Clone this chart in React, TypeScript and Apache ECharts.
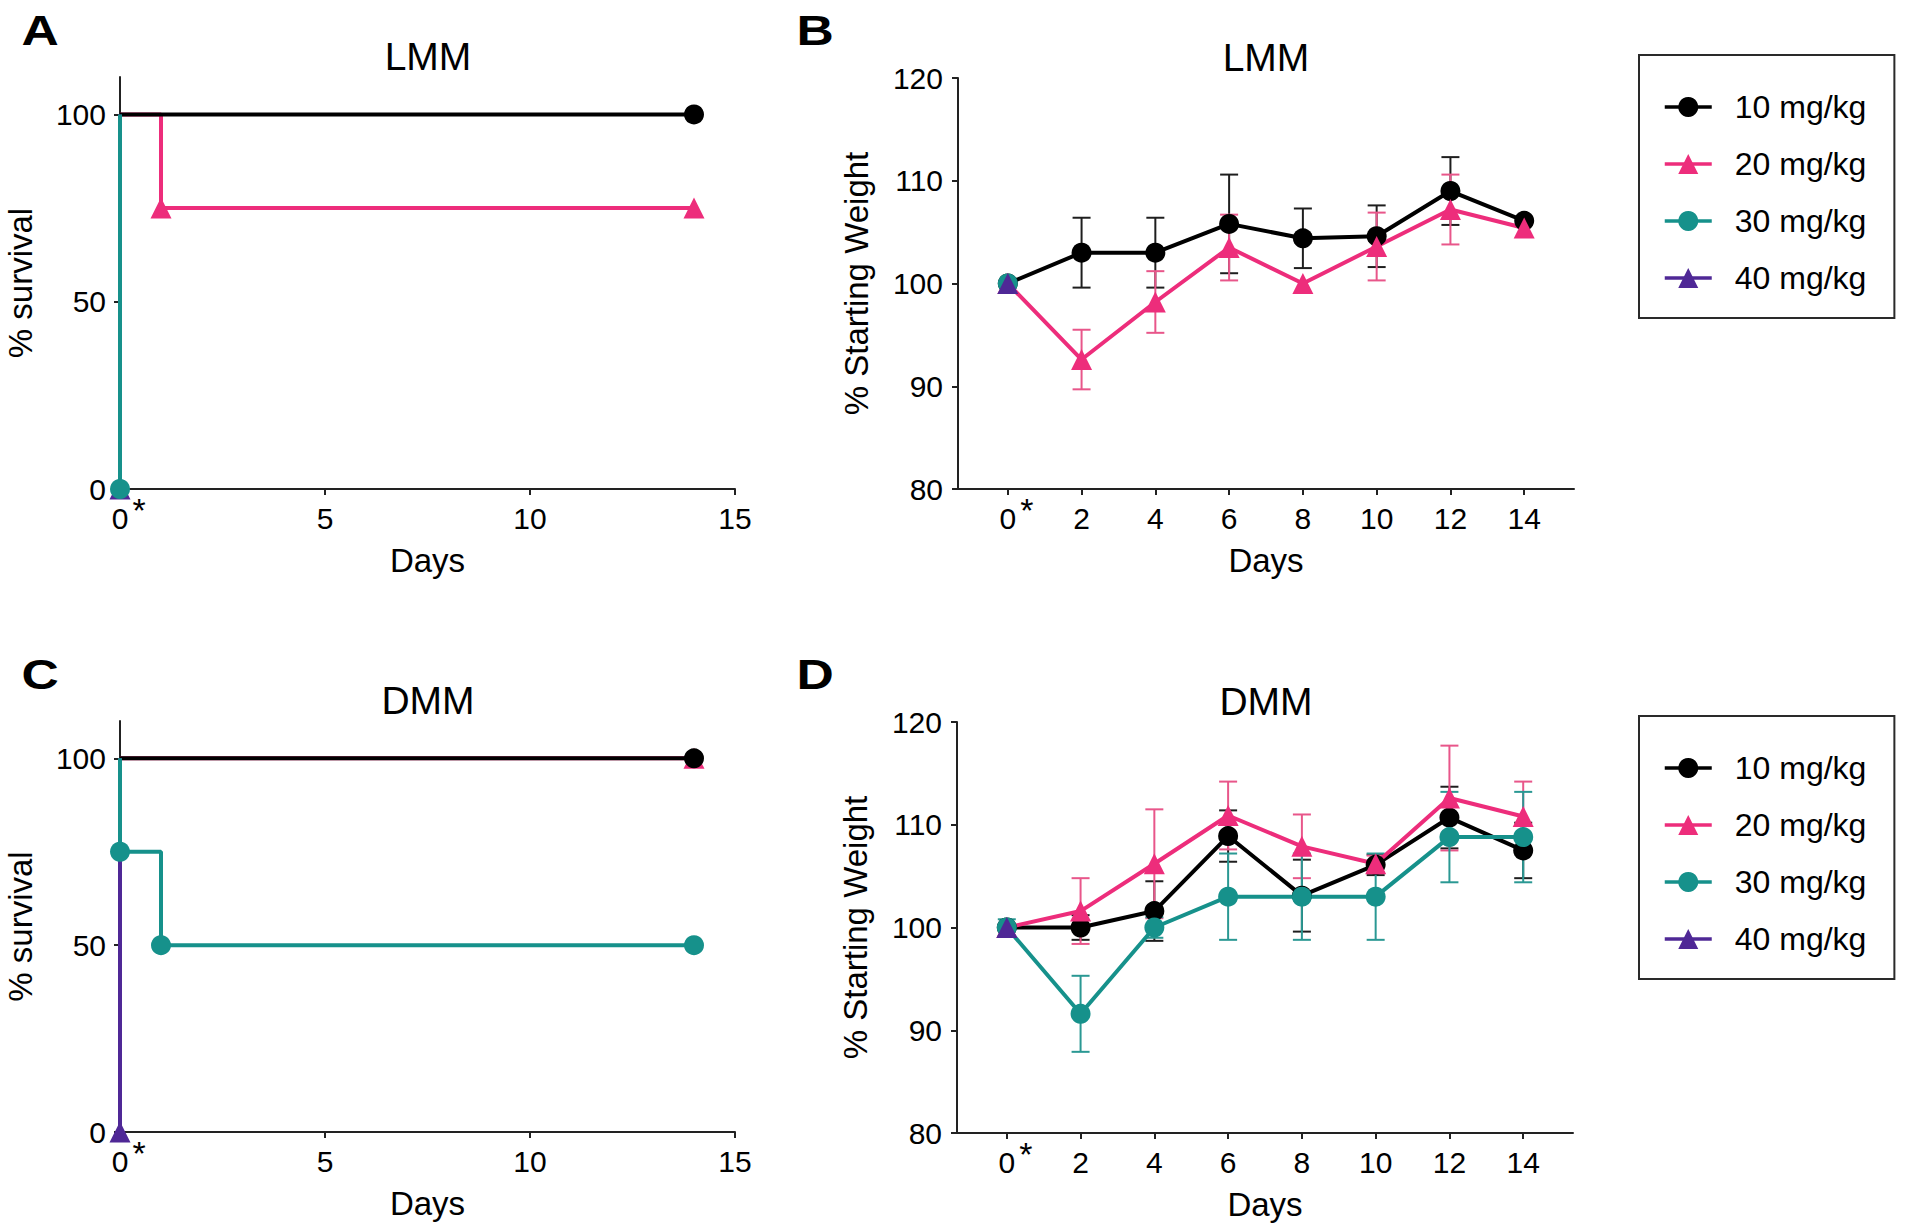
import React, { useEffect, useRef } from 'react';
import * as echarts from 'echarts';

const FONT = "'Liberation Sans', Arial, Helvetica, sans-serif";

// ---- Doses / styling keys ----
const DOSES = ['10 mg/kg', '20 mg/kg', '30 mg/kg', '40 mg/kg'];
const DOSE_COLORS = ['#000000', '#ED2D7B', '#16918B', '#4F2896'];
const ERR_COLORS = ['#1e1e1e', '#E8568A', '#2A9893', '#4F2896'];
const DOSE_SYMBOLS = ['circle', 'triangle', 'circle', 'triangle'];
const DOSE_SYMBOL_SIZES = [20, 21, 20, 21];

// ---- Axis ticks ----
const SURV_PCT_TICKS = [0, 50, 100];
const WEIGHT_DAYS = [0, 2, 4, 6, 8, 10, 12, 14];

// ---- Panel A: LMM survival (Kaplan-Meier step points) ----
const LMM_SURV_10 = [[0, 100], [14, 100]];
const LMM_SURV_20 = [[0, 100], [1, 75], [14, 75]];
const LMM_SURV_30 = [[0, 100], [0, 0]];
const LMM_SURV_40 = [[0, 100], [0, 0]];
const LMM_MARK_10 = [[14, 100]];
const LMM_MARK_20 = [[1, 75], [14, 75]];
const LMM_MARK_30 = [[0, 0]];
const LMM_MARK_40 = [[0, 0]];

// ---- Panel C: DMM survival ----
const DMM_SURV_10 = [[0, 100], [14, 100]];
const DMM_SURV_20 = [[0, 100], [14, 100]];
const DMM_SURV_30 = [[0, 100], [0, 75], [1, 50], [14, 50]];
const DMM_SURV_40 = [[0, 100], [0, 0]];
const DMM_MARK_10 = [[14, 100]];
const DMM_MARK_20 = [[14, 100]];
const DMM_MARK_30 = [[0, 75], [1, 50], [14, 50]];
const DMM_MARK_40 = [[0, 0]];

// ---- Panel B: LMM % starting weight (mean, error) ----
const LMM_W_10 = [100, 103.0, 103.0, 105.8, 104.4, 104.6, 109.0, 106.1];
const LMM_E_10 = [0, 3.4, 3.4, 4.8, 2.9, 3.0, 3.3, 0.3];
const LMM_W_20 = [100, 92.6, 98.2, 103.5, 100.0, 103.6, 107.2, 105.4];
const LMM_E_20 = [0, 2.9, 3.0, 3.2, 0.4, 3.3, 3.4, 0.3];
const LMM_W_30 = [100];
const LMM_E_30 = [0];
const LMM_W_40 = [100];
const LMM_E_40 = [0];

// ---- Panel D: DMM % starting weight (mean, error) ----
const DMM_W_10 = [100, 100.0, 101.6, 108.9, 103.1, 106.1, 110.7, 107.5];
const DMM_E_10 = [0, 1.2, 2.9, 2.5, 3.5, 1.0, 3.0, 2.7];
const DMM_W_20 = [100, 101.6, 106.2, 110.9, 107.9, 106.2, 112.6, 110.8];
const DMM_E_20 = [0, 3.2, 5.3, 3.3, 3.1, 0.8, 5.1, 3.4];
const DMM_W_30 = [100, 91.6, 100.0, 103.0, 103.0, 103.0, 108.8, 108.8];
const DMM_E_30 = [0.8, 3.7, 1.0, 4.2, 4.2, 4.2, 4.4, 4.4];
const DMM_W_40 = [100];
const DMM_E_40 = [0];

const AXIS_COLOR = '#222222';
const TEXT_COLOR = '#000000';

function survAxes(gi: number) {
  const x = {
    type: 'value', gridIndex: gi, min: 0, max: 15, interval: 5,
    axisLine: { onZero: false, lineStyle: { color: AXIS_COLOR, width: 2 } },
    axisTick: { length: 6, lineStyle: { color: AXIS_COLOR, width: 2 } },
    axisLabel: { fontSize: 30, color: TEXT_COLOR, margin: 14, fontFamily: FONT },
    splitLine: { show: false },
    name: 'Days', nameLocation: 'middle', nameGap: 55,
    nameTextStyle: { fontSize: 33, color: TEXT_COLOR, fontFamily: FONT },
  };
  const y = {
    type: 'value', gridIndex: gi, min: 0, max: 110,
    axisLine: { show: true, onZero: false, lineStyle: { color: AXIS_COLOR, width: 2 } },
    axisTick: { show: true, length: 6, customValues: SURV_PCT_TICKS, lineStyle: { color: AXIS_COLOR, width: 2 } },
    axisLabel: { fontSize: 30, color: TEXT_COLOR, margin: 14, fontFamily: FONT, customValues: SURV_PCT_TICKS },
    splitLine: { show: false },
    name: '% survival', nameLocation: 'middle', nameGap: 83,
    nameTextStyle: { fontSize: 33, color: TEXT_COLOR, fontFamily: FONT },
  };
  return { x, y };
}

function weightAxes(gi: number) {
  const x = {
    type: 'value', gridIndex: gi, min: -1.35, max: 15.35,
    axisLine: { onZero: false, lineStyle: { color: AXIS_COLOR, width: 2 } },
    axisTick: { length: 6, customValues: WEIGHT_DAYS, lineStyle: { color: AXIS_COLOR, width: 2 } },
    axisLabel: { fontSize: 30, color: TEXT_COLOR, margin: 14, fontFamily: FONT, customValues: WEIGHT_DAYS },
    splitLine: { show: false },
    name: 'Days', nameLocation: 'middle', nameGap: 55,
    nameTextStyle: { fontSize: 33, color: TEXT_COLOR, fontFamily: FONT },
  };
  const y = {
    type: 'value', gridIndex: gi, min: 80, max: 120, interval: 10,
    axisLine: { show: true, onZero: false, lineStyle: { color: AXIS_COLOR, width: 2 } },
    axisTick: { show: true, length: 6, lineStyle: { color: AXIS_COLOR, width: 2 } },
    axisLabel: { fontSize: 30, color: TEXT_COLOR, margin: 15, fontFamily: FONT },
    splitLine: { show: false },
    name: '% Starting Weight', nameLocation: 'middle', nameGap: 85,
    nameTextStyle: { fontSize: 33, color: TEXT_COLOR, fontFamily: FONT },
  };
  return { x, y };
}

function survSeries(gi: number, curves: number[][][], marks: number[][][], tag: string) {
  const order = [1, 0, 3, 2];
  const out: any[] = [];
  order.forEach((i) => {
    out.push({
      type: 'line', name: `${tag} survival ${DOSES[i]}`, xAxisIndex: gi, yAxisIndex: gi,
      step: 'end', data: curves[i], symbol: 'none', clip: false, silent: true,
      lineStyle: { color: DOSE_COLORS[i], width: 4 }, itemStyle: { color: DOSE_COLORS[i] }, z: 2,
    });
  });
  order.forEach((i) => {
    out.push({
      type: 'scatter', name: `${tag} censor ${DOSES[i]}`, xAxisIndex: gi, yAxisIndex: gi,
      data: marks[i], symbol: DOSE_SYMBOLS[i], symbolSize: DOSE_SYMBOL_SIZES[i], clip: false, silent: true,
      itemStyle: { color: DOSE_COLORS[i], opacity: 1 }, z: 3,
    });
  });
  return out;
}

function weightSeries(gi: number, means: number[][], errs: number[][], tag: string) {
  const out: any[] = [];
  means.forEach((m, i) => {
    const color = DOSE_COLORS[i];
    const errColor = ERR_COLORS[i];
    const errData = m
      .map((v, k) => [WEIGHT_DAYS[k], v - errs[i][k], v + errs[i][k]])
      .filter((d, k) => errs[i][k] > 0.5);
    out.push({
      type: 'custom', name: `${tag} error ${DOSES[i]}`, xAxisIndex: gi, yAxisIndex: gi, silent: true,
      data: errData, encode: { x: 0, y: [1, 2] }, z: 2,
      renderItem: (params: any, api: any) => {
        const x = api.value(0);
        const top = api.coord([x, api.value(2)]);
        const bot = api.coord([x, api.value(1)]);
        const hw = 9;
        const st = { stroke: errColor, lineWidth: 2 };
        return {
          type: 'group',
          children: [
            { type: 'line', shape: { x1: top[0], y1: top[1], x2: bot[0], y2: bot[1] }, style: st },
            { type: 'line', shape: { x1: top[0] - hw, y1: top[1], x2: top[0] + hw, y2: top[1] }, style: st },
            { type: 'line', shape: { x1: bot[0] - hw, y1: bot[1], x2: bot[0] + hw, y2: bot[1] }, style: st },
          ],
        };
      },
    });
    out.push({
      type: 'line', name: DOSES[i], xAxisIndex: gi, yAxisIndex: gi,
      data: m.map((v, k) => [WEIGHT_DAYS[k], v]),
      symbol: DOSE_SYMBOLS[i], symbolSize: DOSE_SYMBOL_SIZES[i], showSymbol: true, clip: false,
      lineStyle: { color, width: 4 }, itemStyle: { color, opacity: 1 }, z: 2,
    });
  });
  return out;
}

function legendAt(top: number) {
  return {
    orient: 'vertical', left: 1639, top,
    data: DOSES, selectedMode: false,
    itemWidth: 47, itemHeight: 25, itemGap: 25,
    padding: [36, 28, 24, 24],
    borderColor: '#2a2a2a', borderWidth: 2,
    lineStyle: { width: 3.5 },
    textStyle: { fontSize: 32, color: TEXT_COLOR, fontFamily: FONT, padding: [0, 0, 0, 18] },
  };
}

function buildOption() {
  const a = survAxes(0);
  const b = weightAxes(1);
  const c = survAxes(2);
  const d = weightAxes(3);
  return {
    animation: false,
    backgroundColor: '#ffffff',
    textStyle: { fontFamily: FONT },
    grid: [
      { left: 120, top: 77, width: 615, height: 412 },
      { left: 958, top: 78, width: 616, height: 411 },
      { left: 120, top: 721, width: 615, height: 411 },
      { left: 957, top: 722, width: 616, height: 411 },
    ],
    xAxis: [a.x, b.x, c.x, d.x],
    yAxis: [a.y, b.y, c.y, d.y],
    legend: [legendAt(55), legendAt(716)],
    series: [
      ...weightSeries(1, [LMM_W_10, LMM_W_20, LMM_W_30, LMM_W_40], [LMM_E_10, LMM_E_20, LMM_E_30, LMM_E_40], 'LMM'),
      ...weightSeries(3, [DMM_W_10, DMM_W_20, DMM_W_30, DMM_W_40], [DMM_E_10, DMM_E_20, DMM_E_30, DMM_E_40], 'DMM'),
      ...survSeries(0, [LMM_SURV_10, LMM_SURV_20, LMM_SURV_30, LMM_SURV_40], [LMM_MARK_10, LMM_MARK_20, LMM_MARK_30, LMM_MARK_40], 'LMM'),
      ...survSeries(2, [DMM_SURV_10, DMM_SURV_20, DMM_SURV_30, DMM_SURV_40], [DMM_MARK_10, DMM_MARK_20, DMM_MARK_30, DMM_MARK_40], 'DMM'),
    ],
  };
}

function textEl(text: string, x: number, y: number, size: number, bold = false, scaleX = 1) {
  return {
    type: 'text', x, y, scaleX, silent: true,
    style: {
      text, x: 0, y: 0, fill: TEXT_COLOR,
      font: `${bold ? 'bold ' : ''}${size}px ${FONT}`,
      textAlign: 'center', textVerticalAlign: 'middle',
    },
  };
}

export default function App() {
  const ref = useRef<HTMLDivElement>(null);
  useEffect(() => {
    if (!ref.current) return;
    const chart = echarts.init(ref.current, null, { renderer: 'svg' });
    chart.setOption(buildOption() as any);
    const origins = [
      chart.convertToPixel({ gridIndex: 0 } as any, [0, 0]) as number[],
      chart.convertToPixel({ gridIndex: 1 } as any, [0, 80]) as number[],
      chart.convertToPixel({ gridIndex: 2 } as any, [0, 0]) as number[],
      chart.convertToPixel({ gridIndex: 3 } as any, [0, 80]) as number[],
    ];
    const graphics: any[] = [
      textEl('A', 40, 30, 43, true, 1.2),
      textEl('B', 815, 30, 43, true, 1.2),
      textEl('C', 40, 674, 43, true, 1.2),
      textEl('D', 815, 674, 43, true, 1.2),
      textEl('LMM', 428, 56, 39),
      textEl('LMM', 1266, 57, 39),
      textEl('DMM', 428, 700, 39),
      textEl('DMM', 1266, 701, 39),
      ...origins.map((p) => textEl('*', p[0] + 19, p[1] + 20.5, 34)),
    ];
    chart.setOption({ graphic: graphics } as any);
    return () => chart.dispose();
  }, []);
  return (
    <div
      ref={ref}
      style={{ position: 'absolute', left: 0, top: 0, width: 1920, height: 1232, background: '#fff' }}
    />
  );
}
